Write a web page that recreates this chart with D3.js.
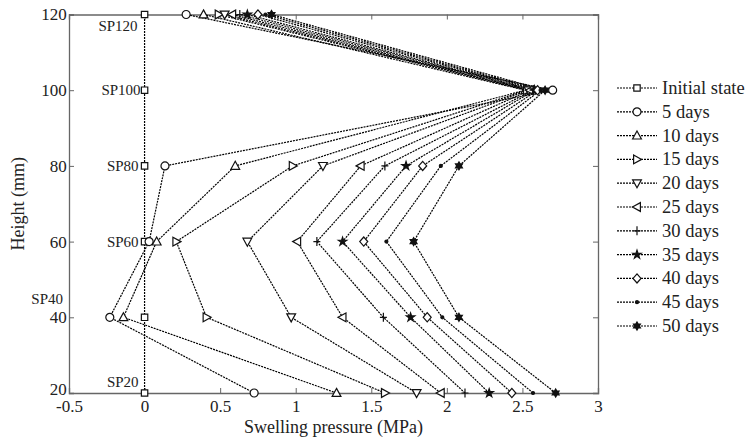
<!DOCTYPE html>
<html><head><meta charset="utf-8">
<script src="https://cdn.jsdelivr.net/npm/d3@7/dist/d3.min.js"></script>
<style>body{margin:0;background:#fff;} svg{display:block;} text{font-family:"Liberation Serif","Times New Roman",serif;fill:#222;}</style>
</head><body>
<svg id="chart" width="750" height="443"></svg>
<script>
const heights = [20, 40, 60, 80, 100, 120];
const seriesNames = ["Initial state","5 days","10 days","15 days","20 days","25 days","30 days","35 days","40 days","45 days","50 days"];
const initialState = [0, 0, 0, 0, 0, 0];
const days5  = [0.725, -0.23, 0.03, 0.135, 2.70, 0.275];
const days10 = [1.27, -0.14, 0.08, 0.60, 2.52, 0.39];
const days15 = [1.59, 0.41, 0.21, 0.98, 2.53, 0.49];
const days20 = [1.80, 0.97, 0.68, 1.18, 2.54, 0.53];
const days25 = [1.96, 1.31, 1.01, 1.43, 2.55, 0.58];
const days30 = [2.12, 1.58, 1.14, 1.59, 2.57, 0.63];
const days35 = [2.28, 1.76, 1.31, 1.73, 2.58, 0.68];
const days40 = [2.43, 1.87, 1.45, 1.84, 2.60, 0.75];
const days45 = [2.57, 1.97, 1.60, 1.96, 2.62, 0.80];
const days50 = [2.72, 2.08, 1.78, 2.08, 2.65, 0.84];
const xTicks = [-0.5, 0, 0.5, 1, 1.5, 2, 2.5, 3];
const yTicks = [20, 40, 60, 80, 100, 120];
const sensorLabels = ["SP20","SP40","SP60","SP80","SP100","SP120"];
const markerTypes = ["square","circle","triUp","triRight","triDown","triLeft","plus","star","diamond","dot","hexagram"];

const allSeries = [initialState, days5, days10, days15, days20, days25, days30, days35, days40, days45, days50];

const svg = d3.select("#chart");
const x = d3.scaleLinear().domain([-0.5, 3]).range([69, 598]);
const y = d3.scaleLinear().domain([20, 120]).range([393, 14.5]);

function markerPath(type) {
  const p = d3.path();
  const tri = (rot) => {
    const pts = [[0,-4.6],[4.4,3.4],[-4.4,3.4]].map(([a,b]) => {
      const c = Math.cos(rot), s = Math.sin(rot);
      return [a*c - b*s, a*s + b*c];
    });
    p.moveTo(pts[0][0], pts[0][1]); p.lineTo(pts[1][0], pts[1][1]); p.lineTo(pts[2][0], pts[2][1]); p.closePath();
  };
  switch (type) {
    case "square": p.rect(-3.2,-3.2,6.4,6.4); break;
    case "circle": p.moveTo(4,0); p.arc(0,0,4,0,2*Math.PI); break;
    case "triUp": tri(0); break;
    case "triRight": tri(Math.PI/2); break;
    case "triDown": tri(Math.PI); break;
    case "triLeft": tri(-Math.PI/2); break;
    case "plus": p.moveTo(-3.5,0); p.lineTo(3.5,0); p.moveTo(0,-4.5); p.lineTo(0,4.5); break;
    case "star": return d3.symbol(d3.symbolStar, 22)();
    case "diamond": p.moveTo(0,-4.6); p.lineTo(4,0); p.lineTo(0,4.6); p.lineTo(-4,0); p.closePath(); break;
    case "dot": p.moveTo(1.5,0); p.arc(0,0,1.5,0,2*Math.PI); break;
    case "hexagram": {
      for (let k = 0; k < 2; k++) {
        const off = k * Math.PI / 3;
        for (let i = 0; i < 3; i++) {
          const a = off + i * 2 * Math.PI / 3 - Math.PI/2;
          const px = 4 * Math.cos(a), py = 4 * Math.sin(a);
          if (i === 0) p.moveTo(px, py); else p.lineTo(px, py);
        }
        p.closePath();
      }
      break;
    }
  }
  return p.toString();
}
const filled = t => t === "star" || t === "dot" || t === "hexagram";

// Axes (inward ticks, box)
const axisColor = "#666";
const gx = svg.append("g").attr("transform", `translate(0,${y(20)})`)
  .call(d3.axisBottom(x).tickValues(xTicks).tickSize(-5).tickPadding(4).tickFormat(d => String(d)));
const gxt = svg.append("g").attr("transform", `translate(0,${y(120)})`)
  .call(d3.axisTop(x).tickValues(xTicks).tickSize(-5).tickFormat(""));
const gy = svg.append("g").attr("transform", `translate(${x(-0.5)},0)`)
  .call(d3.axisLeft(y).tickValues(yTicks).tickSize(-5).tickPadding(4).tickFormat(d => String(d)));
const gyr = svg.append("g").attr("transform", `translate(${x(3)},0)`)
  .call(d3.axisRight(y).tickValues(yTicks).tickSize(-5).tickFormat(""));
[gx, gxt, gy, gyr].forEach(g => {
  g.select(".domain").attr("stroke", axisColor).attr("stroke-width", 1.3);
  g.selectAll(".tick line").attr("stroke", axisColor).attr("stroke-width", 1);
  g.selectAll(".tick text").attr("font-size", 17).attr("fill", "#222")
   .style("font-family", "'Liberation Serif','Times New Roman',serif");
});
gx.selectAll(".tick text").attr("dy", "0.9em");
gy.selectAll(".tick text").attr("dx", "0.1em");
gy.selectAll(".tick").filter(d => d === 20).select("text").attr("dy", "0.1em");

// Axis titles
svg.append("text").attr("x", (x(-0.5)+x(3))/2).attr("y", 433).attr("text-anchor","middle")
  .attr("font-size", 18).text("Swelling pressure (MPa)");
svg.append("text").attr("transform", `translate(24,${(y(20)+y(120))/2}) rotate(-90)`)
  .attr("text-anchor","middle").attr("font-size", 18).text("Height (mm)");

// Sensor labels
const sensorPos = [
  {dx: x(0)-6, dy: y(20)-11},
  {dx: x(-0.5)-6, dy: y(40)-18},
  {dx: x(0)-6, dy: y(60)},
  {dx: x(0)-6, dy: y(80)},
  {dx: x(0)-4, dy: y(100)},
  {dx: x(0)-7, dy: y(120)+11}
];
sensorLabels.forEach((lab, i) => {
  svg.append("text").attr("x", sensorPos[i].dx).attr("y", sensorPos[i].dy)
    .attr("text-anchor","end").attr("dominant-baseline","central")
    .attr("font-size", 15).text(lab);
});

// Lines
const line = d3.line().x(d => x(d[0])).y(d => y(d[1]));
const plot = svg.append("g");
allSeries.forEach((vals) => {
  const pts = vals.map((v, i) => [v, heights[i]]);
  plot.append("path").attr("d", line(pts)).attr("fill","none")
    .attr("stroke","#000").attr("stroke-width",1.2).attr("stroke-dasharray","2,1");
});
allSeries.forEach((vals, si) => {
  const t = markerTypes[si];
  vals.forEach((v, i) => {
    plot.append("path").attr("d", markerPath(t))
      .attr("transform", `translate(${x(v)},${y(heights[i])})`)
      .attr("fill", filled(t) ? "#111" : "#fff").attr("stroke","#111").attr("stroke-width",1.2);
  });
});

// Legend
const leg = svg.append("g");
seriesNames.forEach((name, i) => {
  const ly = 88 + i * 23.8;
  leg.append("line").attr("x1", 617).attr("x2", 657).attr("y1", ly).attr("y2", ly)
    .attr("stroke","#000").attr("stroke-width",1.2).attr("stroke-dasharray","2,1");
  const t = markerTypes[i];
  leg.append("path").attr("d", markerPath(t)).attr("transform", `translate(637,${ly})`)
    .attr("fill", filled(t) ? "#111" : "#fff").attr("stroke","#111").attr("stroke-width",1.2);
  leg.append("text").attr("x", 662).attr("y", ly).attr("dominant-baseline","central")
    .attr("font-size", 18.5).text(name);
});
</script>
</body></html>
